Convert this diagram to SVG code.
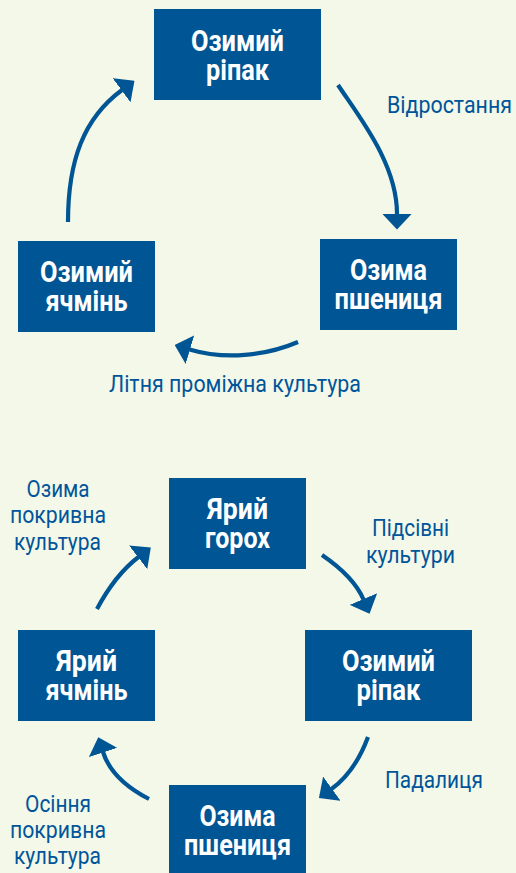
<svg xmlns="http://www.w3.org/2000/svg" width="516" height="873" viewBox="0 0 516 873">
<style>
.bg{fill:#f4f8e8}
.box{fill:#005594}
.bt{font-family:Roboto,"Liberation Sans",sans-serif;font-weight:bold;font-size:29px;fill:#ffffff;text-anchor:middle}
.lb{font-family:Roboto,"Liberation Sans",sans-serif;font-size:23px;fill:#00559a;text-anchor:middle}
.c{fill:none;stroke:#005594;stroke-width:4.2;marker-end:url(#ah)}
</style>
<defs>
<marker id="ah" markerUnits="userSpaceOnUse" markerWidth="16" markerHeight="30" viewBox="0 0 16 30" refX="0.5" refY="15" orient="auto">
<path d="M0,0 L16,15 L0,30 Z" fill="#005594"/>
</marker>
</defs>
<rect class="bg" x="0" y="0" width="516" height="873"/>

<g id="connectors">
<path class="c" d="M338,85 C360,118 397,164 397,214"/>
<path class="c" d="M298,342 C265,356 225,360 189.5,349.5"/>
<path class="c" d="M68,222 C68,160 84,118 122,90"/>
<path class="c" d="M97,609 Q115,575 138.5,557"/>
<path class="c" d="M322,555 Q354,577 363.5,599.5"/>
<path class="c" d="M368,737 Q355,772 331.5,789"/>
<path class="c" d="M149,799 Q112,780 103,752"/>
</g>

<g id="labels">
<text class="lb" x="449.5" y="112.5" textLength="125" lengthAdjust="spacingAndGlyphs">Відростання</text>
<text class="lb" x="235" y="392" textLength="252" lengthAdjust="spacingAndGlyphs">Літня проміжна культура</text>
<text class="lb" x="58" y="496.5" textLength="63" lengthAdjust="spacingAndGlyphs">Озима</text>
<text class="lb" x="58" y="523" textLength="96" lengthAdjust="spacingAndGlyphs">покривна</text>
<text class="lb" x="57.5" y="549.5" textLength="87" lengthAdjust="spacingAndGlyphs">культура</text>
<text class="lb" x="410.5" y="536" textLength="77" lengthAdjust="spacingAndGlyphs">Підсівні</text>
<text class="lb" x="410.5" y="563" textLength="89" lengthAdjust="spacingAndGlyphs">культури</text>
<text class="lb" x="434" y="788" textLength="98" lengthAdjust="spacingAndGlyphs">Падалиця</text>
<text class="lb" x="58" y="812" textLength="66" lengthAdjust="spacingAndGlyphs">Осіння</text>
<text class="lb" x="58" y="838" textLength="96" lengthAdjust="spacingAndGlyphs">покривна</text>
<text class="lb" x="57.5" y="864" textLength="87" lengthAdjust="spacingAndGlyphs">культура</text>
</g>

<g id="n1">
<rect class="box" x="154" y="9" width="167" height="91"/>
<text class="bt" x="237.5" y="50.5" textLength="93" lengthAdjust="spacingAndGlyphs">Озимий</text>
<text class="bt" x="237.5" y="79.5" textLength="63" lengthAdjust="spacingAndGlyphs">ріпак</text>
</g>
<g id="n2">
<rect class="box" x="320" y="239" width="137" height="91"/>
<text class="bt" x="388.5" y="280" textLength="77" lengthAdjust="spacingAndGlyphs">Озима</text>
<text class="bt" x="388.5" y="309" textLength="108" lengthAdjust="spacingAndGlyphs">пшениця</text>
</g>
<g id="n3">
<rect class="box" x="18" y="241" width="137" height="91"/>
<text class="bt" x="86.5" y="282" textLength="93" lengthAdjust="spacingAndGlyphs">Озимий</text>
<text class="bt" x="86.5" y="311" textLength="82" lengthAdjust="spacingAndGlyphs">ячмінь</text>
</g>
<g id="n4">
<rect class="box" x="169" y="478" width="137" height="91"/>
<text class="bt" x="237.5" y="519" textLength="61" lengthAdjust="spacingAndGlyphs">Ярий</text>
<text class="bt" x="237.5" y="547.5" textLength="65" lengthAdjust="spacingAndGlyphs">горох</text>
</g>
<g id="n5">
<rect class="box" x="305" y="630" width="167" height="91"/>
<text class="bt" x="388.5" y="671" textLength="93" lengthAdjust="spacingAndGlyphs">Озимий</text>
<text class="bt" x="388.5" y="700" textLength="64" lengthAdjust="spacingAndGlyphs">ріпак</text>
</g>
<g id="n6">
<rect class="box" x="169" y="785" width="137" height="91"/>
<text class="bt" x="237.5" y="826" textLength="76" lengthAdjust="spacingAndGlyphs">Озима</text>
<text class="bt" x="237.5" y="855" textLength="107" lengthAdjust="spacingAndGlyphs">пшениця</text>
</g>
<g id="n7">
<rect class="box" x="18" y="630" width="137" height="91"/>
<text class="bt" x="86.5" y="671" textLength="61" lengthAdjust="spacingAndGlyphs">Ярий</text>
<text class="bt" x="86.5" y="700" textLength="82" lengthAdjust="spacingAndGlyphs">ячмінь</text>
</g>
</svg>
